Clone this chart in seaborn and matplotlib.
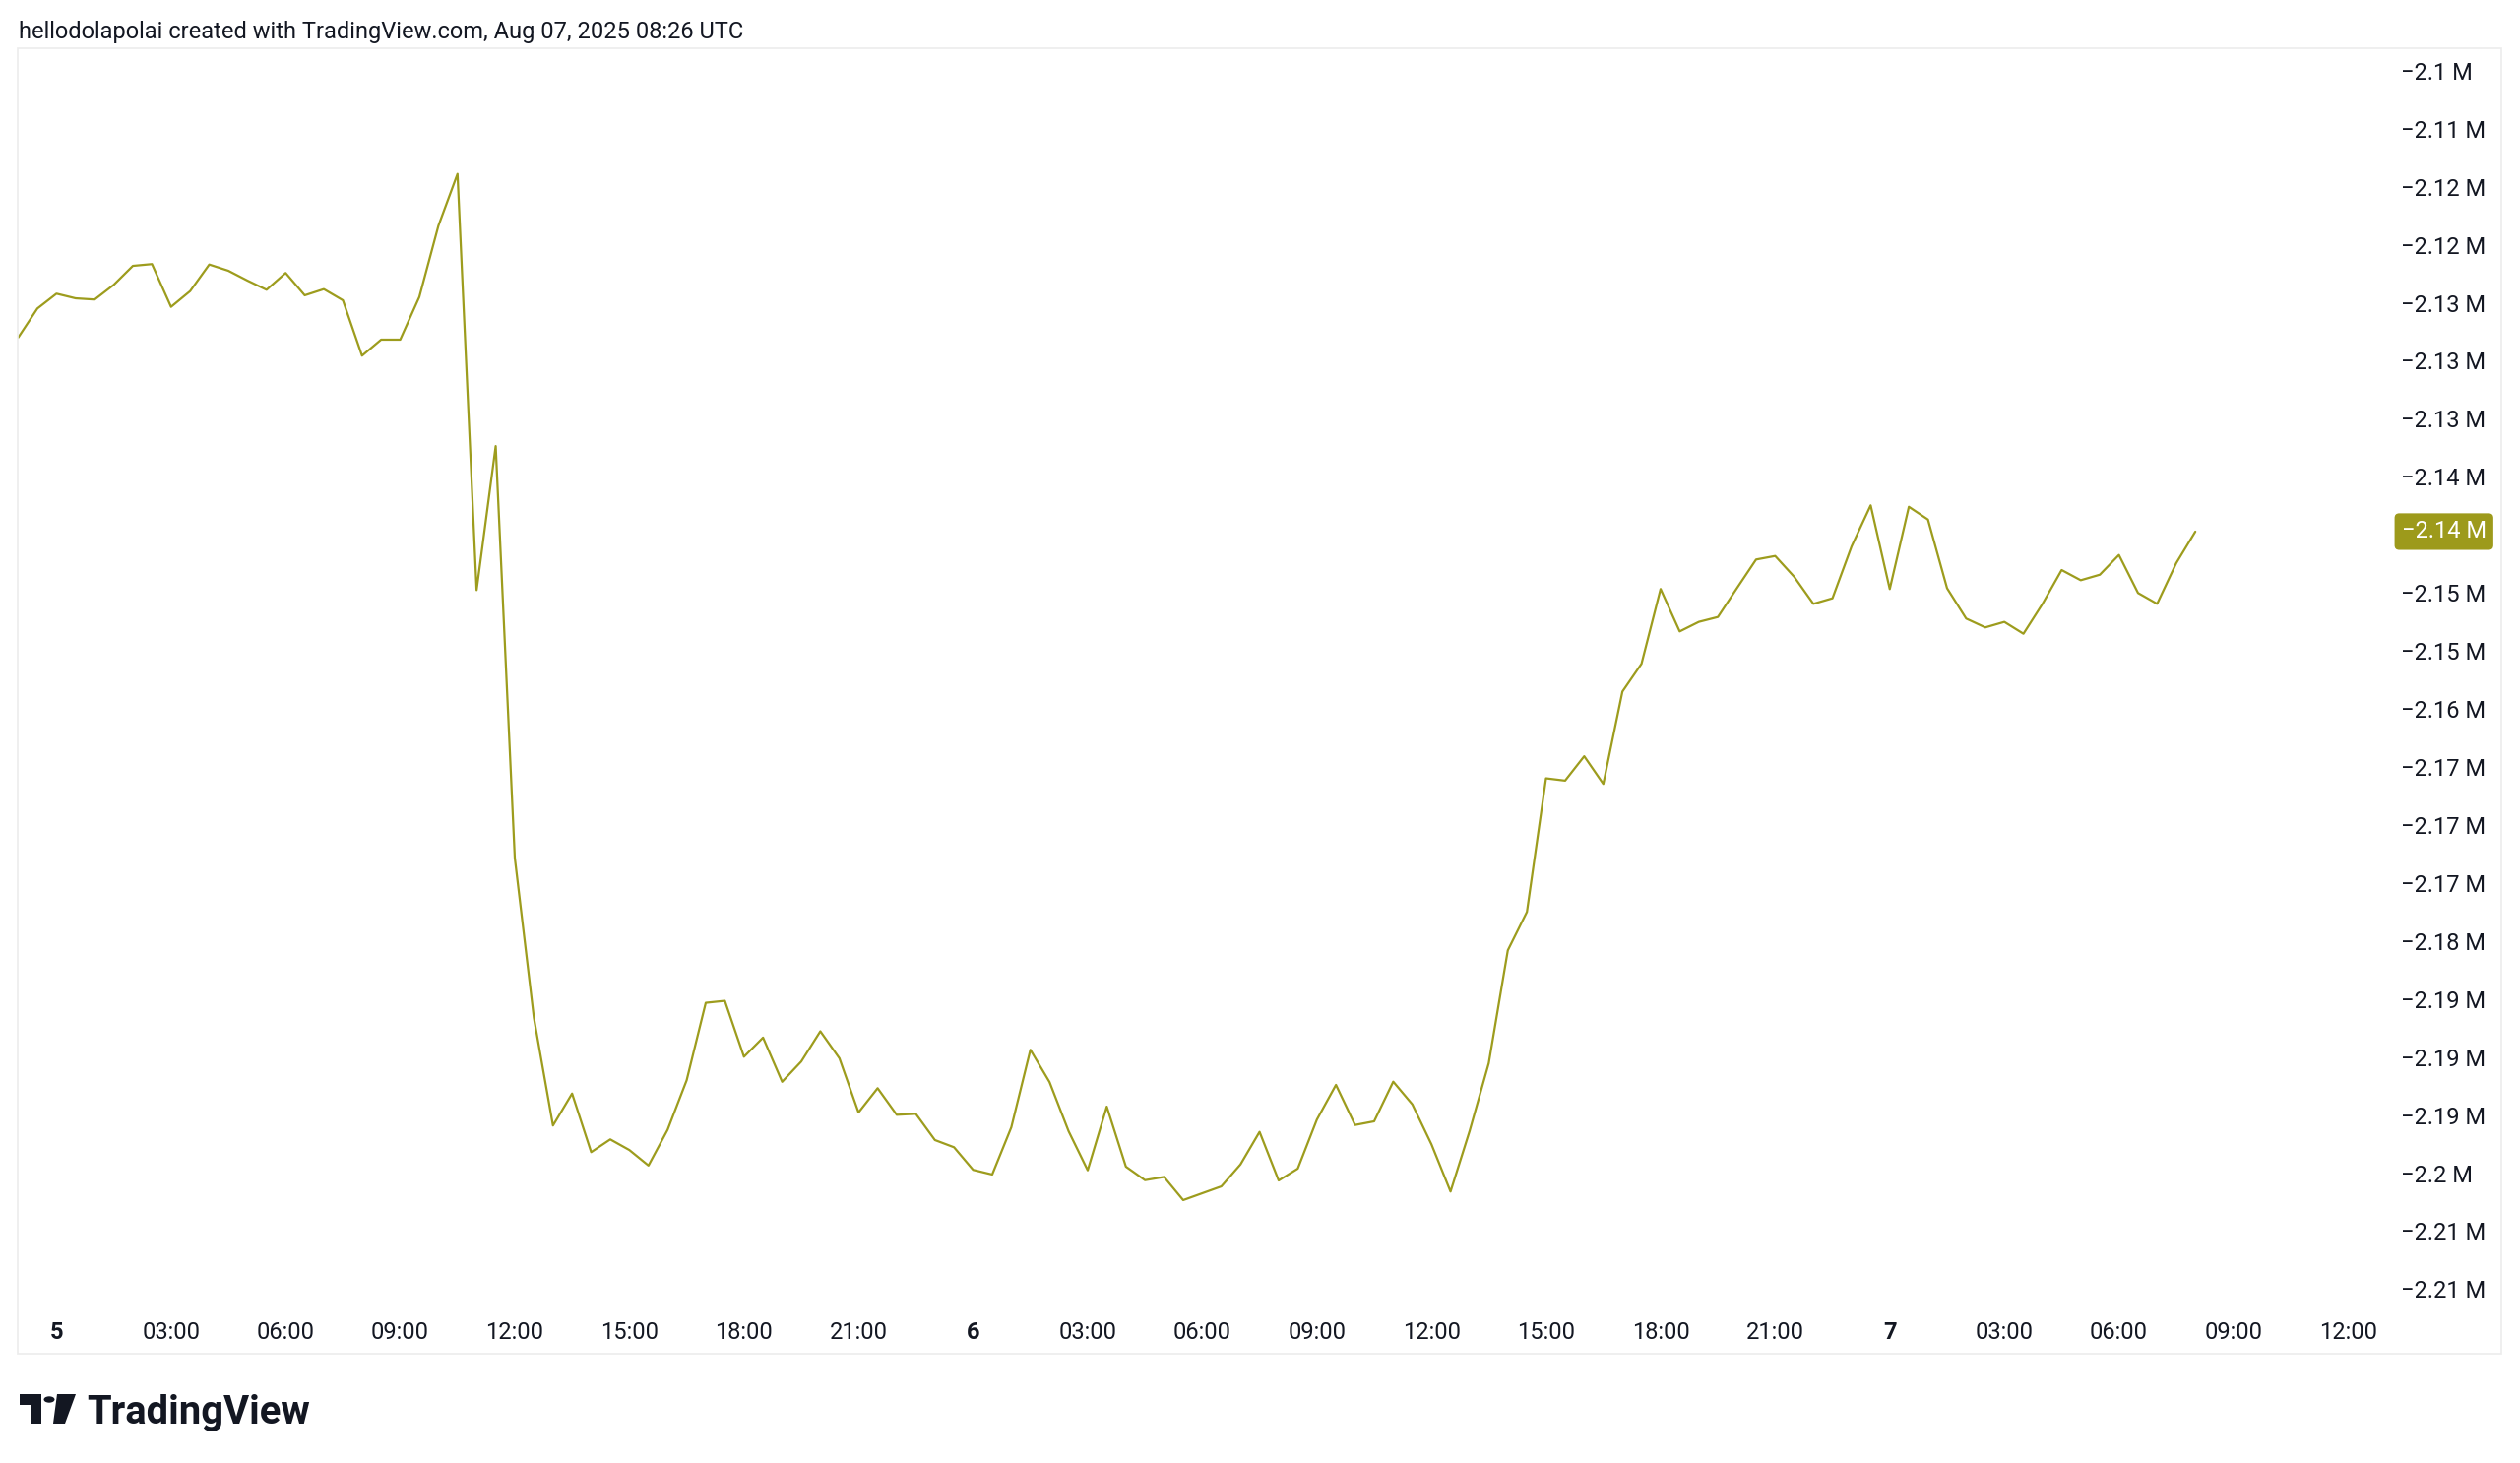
import numpy as np
import pandas as pd
import matplotlib
matplotlib.use("Agg")
import matplotlib.pyplot as plt
import seaborn as sns
from matplotlib.patches import Rectangle, Circle, Polygon

# ---------------- data ----------------
start_time = "2025-08-04 23:00"
values_m = [
    -2.12408, -2.12147, -2.12013, -2.12055, -2.12066, -2.11933, -2.11762, -2.11746,
    -2.12132, -2.11990, -2.11750, -2.11806, -2.11895, -2.11978, -2.11826, -2.12028,
    -2.11972, -2.12073, -2.12573, -2.12428, -2.12428, -2.12043, -2.11400, -2.10932,
    -2.14689, -2.13389, -2.17106, -2.18550, -2.19523, -2.19234, -2.19763, -2.19648,
    -2.19744, -2.19884, -2.19562, -2.19114, -2.18415, -2.18397, -2.18902, -2.18729,
    -2.19128, -2.18945, -2.18672, -2.18916, -2.19405, -2.19186, -2.19426, -2.19417,
    -2.19654, -2.19719, -2.19923, -2.19965, -2.19539, -2.18839, -2.19130, -2.19574,
    -2.19927, -2.19352, -2.19894, -2.20016, -2.19987, -2.20196, -2.20134, -2.20072,
    -2.19874, -2.19580, -2.20019, -2.19912, -2.19470, -2.19156, -2.19518, -2.19485,
    -2.19127, -2.19332, -2.19692, -2.20119, -2.19572, -2.18961, -2.17941, -2.17594,
    -2.16388, -2.16409, -2.16189, -2.16439, -2.15605, -2.15354, -2.14679, -2.15062,
    -2.14976, -2.14932, -2.14671, -2.14413, -2.14381, -2.14570, -2.14813, -2.14763,
    -2.14295, -2.13924, -2.14680, -2.13937, -2.14052, -2.14672, -2.14946, -2.15026,
    -2.14976, -2.15083, -2.14813, -2.14508, -2.14600, -2.14550, -2.14372, -2.14715,
    -2.14813, -2.14446, -2.14161,
]
y_tick_labels = [
    "−2.1 M", "−2.11 M", "−2.12 M", "−2.12 M", "−2.13 M", "−2.13 M", "−2.13 M",
    "−2.14 M", "−2.14 M", "−2.15 M", "−2.15 M", "−2.16 M", "−2.17 M", "−2.17 M",
    "−2.17 M", "−2.18 M", "−2.19 M", "−2.19 M", "−2.19 M", "−2.2 M", "−2.21 M",
    "−2.21 M",
]
hidden_y_label_index = 8  # covered by the last-value tag in the reference
x_tick_labels = [
    "5", "03:00", "06:00", "09:00", "12:00", "15:00", "18:00", "21:00",
    "6", "03:00", "06:00", "09:00", "12:00", "15:00", "18:00", "21:00",
    "7", "03:00", "06:00", "09:00", "12:00",
]
last_label = "−2.14 M"
header_text = "hellodolapolai created with TradingView.com, Aug 07, 2025 08:26 UTC"
brand_text = "TradingView"

LINE = "#9d9c1d"
TAG = "#9d9a1b"
TXT = "#131722"

# ---------------- style ----------------
sns.set_theme(style="white")
plt.rcParams["font.family"] = ["Roboto", "DejaVu Sans"]
plt.rcParams["axes.unicode_minus"] = True

W, H = 2560, 1486
fig = plt.figure(figsize=(W / 100, H / 100), dpi=100)
fig.patch.set_facecolor("white")


def fx(x):
    return x / W


def fy(y):
    return 1 - y / H


ax = fig.add_axes([fx(18), fy(1330), (2423 - 18) / W, (1330 - 49) / H])
ax.set_facecolor("white")

times = pd.date_range(start_time, periods=len(values_m), freq="30min")
df = pd.DataFrame({"time": times, "value": values_m})
sns.lineplot(data=df, x="time", y="value", ax=ax, color=LINE, linewidth=1.6)

# x axis
tick_times = pd.date_range("2025-08-05 00:00", periods=len(x_tick_labels), freq="3h")
ax.set_xticks(tick_times)
ax.set_xticklabels(x_tick_labels)
for lbl, txt in zip(ax.get_xticklabels(), x_tick_labels):
    if ":" not in txt:
        lbl.set_fontweight("bold")
ax.set_xlim(pd.Timestamp(start_time) - pd.Timedelta(hours=0.015),
            pd.Timestamp("2025-08-05") + pd.Timedelta(hours=60.97))
ax.tick_params(axis="x", length=0, pad=8.5, labelsize=17, labelcolor=TXT)

# y axis
yticks = np.linspace(-2.10, -2.21, len(y_tick_labels))
ax.yaxis.tick_right()
ax.set_yticks(yticks)
ax.set_yticklabels(y_tick_labels)
ax.set_ylim(-2.211829, -2.097974)
ax.tick_params(axis="y", length=0, pad=11.5, labelsize=17, labelcolor=TXT)
ax.get_yticklabels()[hidden_y_label_index].set_visible(False)

ax.set_xlabel("")
ax.set_ylabel("")
ax.grid(False)
for s in ax.spines.values():
    s.set_visible(False)

# last value tag
ax.annotate(last_label, xy=(1, values_m[-1]), xycoords=("axes fraction", "data"),
            xytext=(12, 0), textcoords="offset points", ha="left", va="center",
            fontsize=17, color="white", zorder=10, annotation_clip=False,
            bbox=dict(boxstyle="round,pad=0.3,rounding_size=0.2", fc=TAG, ec="none"))

# outer frame
fig.add_artist(Rectangle((fx(18), fy(1375)), (2541 - 18) / W, (1375 - 49) / H,
                         fill=False, ec="#ececec", lw=1.2, transform=fig.transFigure))

# header
fig.text(fx(19), fy(33), header_text, ha="left", va="center", fontsize=17, color=TXT)

# logo
k = "#131722"
fig.add_artist(Polygon([(fx(20), fy(1416)), (fx(42), fy(1416)), (fx(42), fy(1446)),
                        (fx(31), fy(1446)), (fx(31), fy(1427)), (fx(20), fy(1427))],
                       closed=True, fc=k, ec="none", transform=fig.transFigure))
fig.add_artist(Circle((fx(50), fy(1421.5)), 5.5 / W, fc=k, ec="none",
                      transform=fig.transFigure))
fig.add_artist(Polygon([(fx(58), fy(1416)), (fx(77), fy(1416)), (fx(66), fy(1446)),
                        (fx(54), fy(1446))],
                       closed=True, fc=k, ec="none", transform=fig.transFigure))
fig.text(fx(88), fy(1446), brand_text, ha="left", va="baseline", fontsize=28.8,
         fontweight="bold", color=k)

fig.savefig("out.png", dpi=100, facecolor="white")
